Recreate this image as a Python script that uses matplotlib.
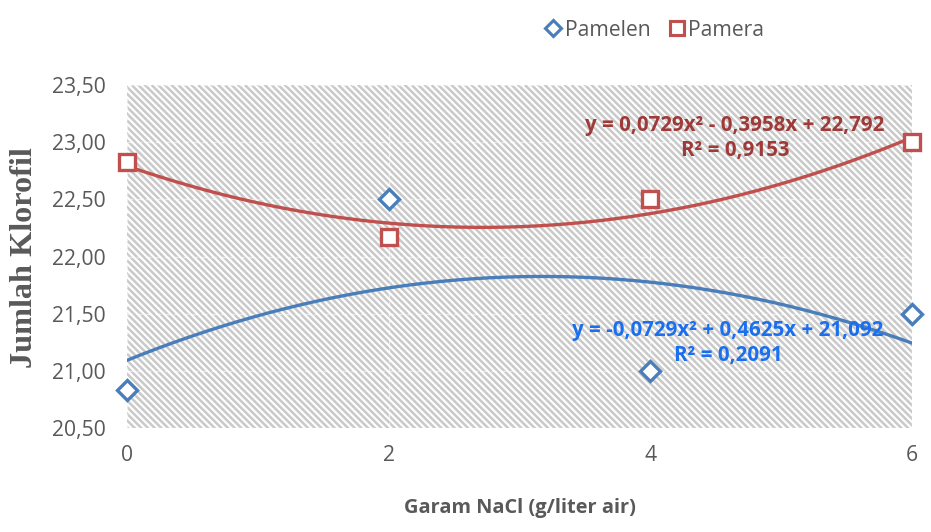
import numpy as np
import matplotlib.pyplot as plt
from matplotlib.patches import Rectangle
from matplotlib.ticker import FuncFormatter
from matplotlib.lines import Line2D

# data
nacl = [0, 2, 4, 6]
pamelen = [20.83, 22.50, 21.00, 21.50]
pamera = [22.83, 22.17, 22.50, 23.00]

# trendline coefficients as printed (a, b, c) for a*x^2 + b*x + c
pamelen_fit = [-0.0729, 0.4625, 21.092]
pamera_fit = [0.0729, -0.3958, 22.792]
pamelen_eq = "y = -0,0729x\u00b2 + 0,4625x + 21,092\nR\u00b2 = 0,2091"
pamera_eq = "y = 0,0729x\u00b2 - 0,3958x + 22,792\nR\u00b2 = 0,9153"

yticks = [20.5, 21.0, 21.5, 22.0, 22.5, 23.0, 23.5]
xticks = [0, 2, 4, 6]

blue = '#4A7EBB'
red = '#C0504D'
grey = '#595959'

plt.rcParams['font.family'] = ['Open Sans', 'DejaVu Sans']
plt.rcParams['hatch.linewidth'] = 2.3

DPI = 80
fig = plt.figure(figsize=(931 / DPI, 532 / DPI), dpi=DPI)
ax = fig.add_axes([127 / 931, 1 - 428 / 532, 785 / 931, 343 / 532])

# hatched plot area
bg = Rectangle((0, 0), 1, 1, transform=ax.transAxes, facecolor='white',
               edgecolor='#cacaca', hatch='\\\\\\\\', linewidth=0, zorder=0)
ax.add_patch(bg)

for s in ax.spines.values():
    s.set_visible(False)

ax.set_xlim(0, 6)
ax.set_ylim(20.5, 23.5)
ax.set_xticks(xticks)
ax.set_yticks(yticks)
ax.grid(True, color='white', linewidth=1.2, linestyle=(0, (4, 3)), alpha=0.6, zorder=1)
ax.set_axisbelow(False)
ax.yaxis.set_major_formatter(FuncFormatter(lambda v, p: f"{v:.2f}".replace('.', ',')))
ax.tick_params(length=0, labelsize=19, labelcolor=grey)
ax.tick_params(axis='y', pad=19)
ax.tick_params(axis='x', pad=15)

xs = np.linspace(0, 6, 200)
ax.plot(xs, np.polyval(pamelen_fit, xs), color=blue, lw=3, zorder=3)
ax.plot(xs, np.polyval(pamera_fit, xs), color=red, lw=3, zorder=3)

ax.plot(nacl, pamelen, linestyle='none', marker='D', ms=12.5, mew=3,
        mec=blue, mfc='white', zorder=4, clip_on=False)
ax.plot(nacl, pamera, linestyle='none', marker='s', ms=14, mew=3,
        mec=red, mfc='white', zorder=4, clip_on=False)

ax.text(4.647, 23.036, pamera_eq, color='#9E3A38', fontsize=18.5, fontweight='bold',
        ha='center', va='center', linespacing=1.3, zorder=5)
ax.text(4.594, 21.243, pamelen_eq, color='#1A6FEF', fontsize=18.5, fontweight='bold',
        ha='center', va='center', linespacing=1.3, zorder=5)

ax.set_xlabel('Garam NaCl (g/liter air)', fontsize=18, fontweight='bold',
              color=grey, labelpad=29)
fig.text(25 / 931, 1 - 258 / 532, 'Jumlah Klorofil', rotation=90, fontsize=29,
         fontweight='bold', family='Liberation Serif', color=grey,
         ha='center', va='center')

handles = [
    Line2D([], [], linestyle='none', marker='D', ms=10, mew=2.8, mec=blue, mfc='white'),
    Line2D([], [], linestyle='none', marker='s', ms=12, mew=2.8, mec=red, mfc='white'),
]
fig.legend(handles, ['Pamelen', 'Pamera'], loc='center', bbox_to_anchor=(655 / 931, 1 - 30 / 532),
           ncol=2, frameon=False, fontsize=19, labelcolor=grey, handlelength=0.7,
           handletextpad=0.2, columnspacing=0.9)

fig.savefig('out.png', dpi=DPI)
